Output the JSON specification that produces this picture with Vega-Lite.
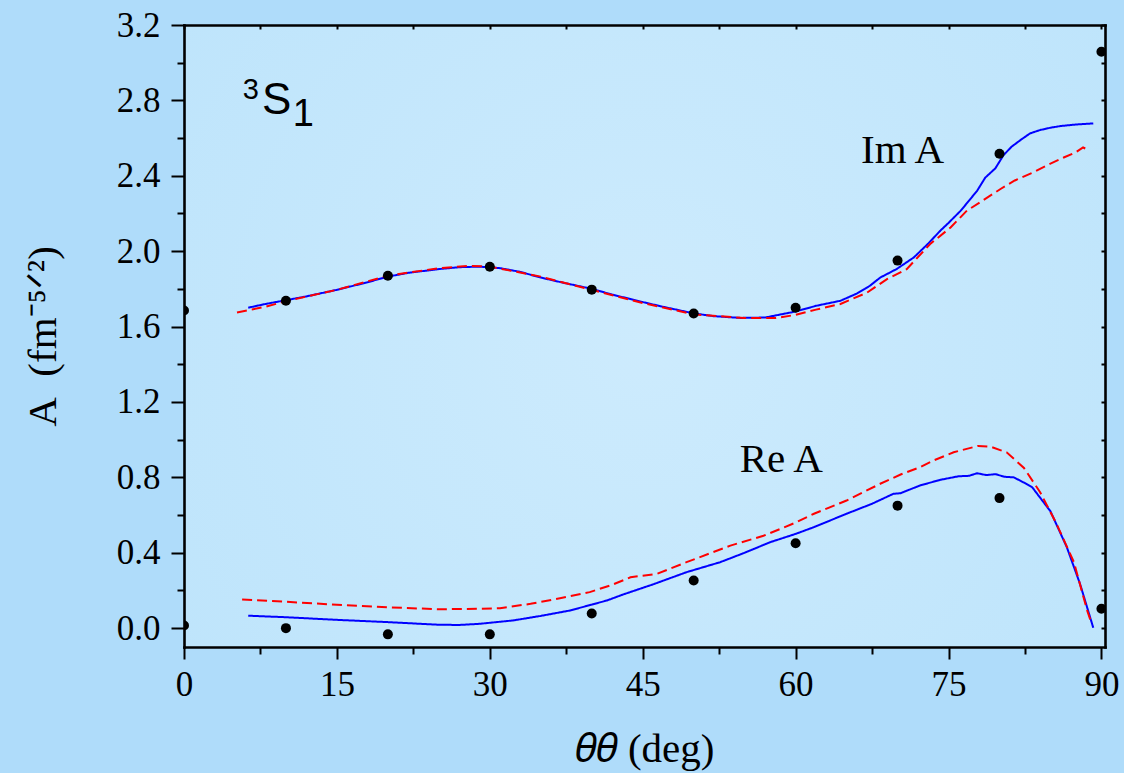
{
  "$schema": "https://vega.github.io/schema/vega-lite/v6.json",
  "width": 921,
  "height": 622,
  "autosize": {"type": "none"},
  "padding": {"left": 184, "top": 25, "right": 19, "bottom": 126},
  "background": "#afdcfa",
  "config": {
    "view": {
      "stroke": null,
      "fill": {
        "gradient": "radial",
        "x1": 0.5, "y1": 0.5, "x2": 0.5, "y2": 0.5, "r1": 0, "r2": 0.75,
        "stops": [{"offset": 0, "color": "#cdebfd"}, {"offset": 1, "color": "#bbe3fb"}]
      }
    },
    "axis": {
      "grid": false,
      "domainColor": "black",
      "domainWidth": 2.6,
      "domainCap": "square",
      "tickColor": "black",
      "tickWidth": 2,
      "labelFont": "Liberation Serif",
      "labelFontSize": 35,
      "labelColor": "black",
      "labelFlush": false,
      "labelOverlap": false,
      "titleFont": "Liberation Serif",
      "titleFontSize": 40,
      "titleFontWeight": "normal",
      "titleColor": "black",
      "zindex": 1
    }
  },
  "datasets": {
    "points": [
      {"theta": 0, "A": 1.685, "part": "Im"},
      {"theta": 10, "A": 1.737, "part": "Im"},
      {"theta": 20, "A": 1.87, "part": "Im"},
      {"theta": 30, "A": 1.917, "part": "Im"},
      {"theta": 40, "A": 1.796, "part": "Im"},
      {"theta": 50, "A": 1.669, "part": "Im"},
      {"theta": 60, "A": 1.70, "part": "Im"},
      {"theta": 70, "A": 1.95, "part": "Im"},
      {"theta": 80, "A": 2.517, "part": "Im"},
      {"theta": 90, "A": 3.058, "part": "Im"},
      {"theta": 0, "A": 0.014, "part": "Re"},
      {"theta": 10, "A": 0.0, "part": "Re"},
      {"theta": 20, "A": -0.033, "part": "Re"},
      {"theta": 30, "A": -0.033, "part": "Re"},
      {"theta": 40, "A": 0.078, "part": "Re"},
      {"theta": 50, "A": 0.253, "part": "Re"},
      {"theta": 60, "A": 0.45, "part": "Re"},
      {"theta": 70, "A": 0.65, "part": "Re"},
      {"theta": 80, "A": 0.69, "part": "Re"},
      {"theta": 90, "A": 0.103, "part": "Re"}
    ],
    "curves": [
      {"theta": 6.3, "A": 1.70, "part": "Im", "calc": "solid"},
      {"theta": 8, "A": 1.72, "part": "Im", "calc": "solid"},
      {"theta": 10, "A": 1.74, "part": "Im", "calc": "solid"},
      {"theta": 12, "A": 1.76, "part": "Im", "calc": "solid"},
      {"theta": 15, "A": 1.795, "part": "Im", "calc": "solid"},
      {"theta": 18, "A": 1.835, "part": "Im", "calc": "solid"},
      {"theta": 20, "A": 1.865, "part": "Im", "calc": "solid"},
      {"theta": 22, "A": 1.885, "part": "Im", "calc": "solid"},
      {"theta": 25, "A": 1.905, "part": "Im", "calc": "solid"},
      {"theta": 27, "A": 1.915, "part": "Im", "calc": "solid"},
      {"theta": 29, "A": 1.918, "part": "Im", "calc": "solid"},
      {"theta": 31, "A": 1.91, "part": "Im", "calc": "solid"},
      {"theta": 33, "A": 1.89, "part": "Im", "calc": "solid"},
      {"theta": 35, "A": 1.86, "part": "Im", "calc": "solid"},
      {"theta": 37, "A": 1.835, "part": "Im", "calc": "solid"},
      {"theta": 40, "A": 1.80, "part": "Im", "calc": "solid"},
      {"theta": 42, "A": 1.77, "part": "Im", "calc": "solid"},
      {"theta": 45, "A": 1.73, "part": "Im", "calc": "solid"},
      {"theta": 47, "A": 1.705, "part": "Im", "calc": "solid"},
      {"theta": 50, "A": 1.67, "part": "Im", "calc": "solid"},
      {"theta": 52, "A": 1.655, "part": "Im", "calc": "solid"},
      {"theta": 54.6, "A": 1.646, "part": "Im", "calc": "solid"},
      {"theta": 57, "A": 1.648, "part": "Im", "calc": "solid"},
      {"theta": 60, "A": 1.68, "part": "Im", "calc": "solid"},
      {"theta": 62, "A": 1.71, "part": "Im", "calc": "solid"},
      {"theta": 64.4, "A": 1.737, "part": "Im", "calc": "solid"},
      {"theta": 66, "A": 1.775, "part": "Im", "calc": "solid"},
      {"theta": 67.3, "A": 1.817, "part": "Im", "calc": "solid"},
      {"theta": 68.3, "A": 1.86, "part": "Im", "calc": "solid"},
      {"theta": 69.9, "A": 1.905, "part": "Im", "calc": "solid"},
      {"theta": 71.6, "A": 1.967, "part": "Im", "calc": "solid"},
      {"theta": 73, "A": 2.04, "part": "Im", "calc": "solid"},
      {"theta": 74.2, "A": 2.109, "part": "Im", "calc": "solid"},
      {"theta": 75, "A": 2.15, "part": "Im", "calc": "solid"},
      {"theta": 76.2, "A": 2.215, "part": "Im", "calc": "solid"},
      {"theta": 77.8, "A": 2.32, "part": "Im", "calc": "solid"},
      {"theta": 78.6, "A": 2.39, "part": "Im", "calc": "solid"},
      {"theta": 79.6, "A": 2.44, "part": "Im", "calc": "solid"},
      {"theta": 80.4, "A": 2.51, "part": "Im", "calc": "solid"},
      {"theta": 81.2, "A": 2.555, "part": "Im", "calc": "solid"},
      {"theta": 82.2, "A": 2.595, "part": "Im", "calc": "solid"},
      {"theta": 83, "A": 2.625, "part": "Im", "calc": "solid"},
      {"theta": 84, "A": 2.643, "part": "Im", "calc": "solid"},
      {"theta": 85, "A": 2.655, "part": "Im", "calc": "solid"},
      {"theta": 86, "A": 2.664, "part": "Im", "calc": "solid"},
      {"theta": 87.5, "A": 2.672, "part": "Im", "calc": "solid"},
      {"theta": 89.2, "A": 2.678, "part": "Im", "calc": "solid"},

      {"theta": 5.2, "A": 1.675, "part": "Im", "calc": "dashed"},
      {"theta": 8, "A": 1.705, "part": "Im", "calc": "dashed"},
      {"theta": 10, "A": 1.735, "part": "Im", "calc": "dashed"},
      {"theta": 15, "A": 1.795, "part": "Im", "calc": "dashed"},
      {"theta": 20, "A": 1.87, "part": "Im", "calc": "dashed"},
      {"theta": 25, "A": 1.91, "part": "Im", "calc": "dashed"},
      {"theta": 28, "A": 1.922, "part": "Im", "calc": "dashed"},
      {"theta": 30, "A": 1.918, "part": "Im", "calc": "dashed"},
      {"theta": 35, "A": 1.865, "part": "Im", "calc": "dashed"},
      {"theta": 40, "A": 1.795, "part": "Im", "calc": "dashed"},
      {"theta": 45, "A": 1.725, "part": "Im", "calc": "dashed"},
      {"theta": 50, "A": 1.665, "part": "Im", "calc": "dashed"},
      {"theta": 55, "A": 1.645, "part": "Im", "calc": "dashed"},
      {"theta": 58, "A": 1.645, "part": "Im", "calc": "dashed"},
      {"theta": 60, "A": 1.662, "part": "Im", "calc": "dashed"},
      {"theta": 62, "A": 1.69, "part": "Im", "calc": "dashed"},
      {"theta": 64.4, "A": 1.72, "part": "Im", "calc": "dashed"},
      {"theta": 67, "A": 1.78, "part": "Im", "calc": "dashed"},
      {"theta": 69, "A": 1.853, "part": "Im", "calc": "dashed"},
      {"theta": 70.9, "A": 1.905, "part": "Im", "calc": "dashed"},
      {"theta": 73.2, "A": 2.038, "part": "Im", "calc": "dashed"},
      {"theta": 75.2, "A": 2.126, "part": "Im", "calc": "dashed"},
      {"theta": 76.8, "A": 2.215, "part": "Im", "calc": "dashed"},
      {"theta": 78.4, "A": 2.27, "part": "Im", "calc": "dashed"},
      {"theta": 80.1, "A": 2.33, "part": "Im", "calc": "dashed"},
      {"theta": 81.5, "A": 2.375, "part": "Im", "calc": "dashed"},
      {"theta": 83.3, "A": 2.418, "part": "Im", "calc": "dashed"},
      {"theta": 85, "A": 2.465, "part": "Im", "calc": "dashed"},
      {"theta": 86.3, "A": 2.497, "part": "Im", "calc": "dashed"},
      {"theta": 87.5, "A": 2.525, "part": "Im", "calc": "dashed"},
      {"theta": 88.2, "A": 2.55, "part": "Im", "calc": "dashed"},
      {"theta": 88.6, "A": 2.54, "part": "Im", "calc": "dashed"},

      {"theta": 6.3, "A": 0.066, "part": "Re", "calc": "solid"},
      {"theta": 10, "A": 0.058, "part": "Re", "calc": "solid"},
      {"theta": 15, "A": 0.044, "part": "Re", "calc": "solid"},
      {"theta": 20, "A": 0.032, "part": "Re", "calc": "solid"},
      {"theta": 25, "A": 0.018, "part": "Re", "calc": "solid"},
      {"theta": 27, "A": 0.017, "part": "Re", "calc": "solid"},
      {"theta": 29, "A": 0.023, "part": "Re", "calc": "solid"},
      {"theta": 32.3, "A": 0.041, "part": "Re", "calc": "solid"},
      {"theta": 35, "A": 0.065, "part": "Re", "calc": "solid"},
      {"theta": 37.9, "A": 0.094, "part": "Re", "calc": "solid"},
      {"theta": 40, "A": 0.125, "part": "Re", "calc": "solid"},
      {"theta": 41.5, "A": 0.147, "part": "Re", "calc": "solid"},
      {"theta": 43.1, "A": 0.179, "part": "Re", "calc": "solid"},
      {"theta": 46, "A": 0.232, "part": "Re", "calc": "solid"},
      {"theta": 49.3, "A": 0.297, "part": "Re", "calc": "solid"},
      {"theta": 52.6, "A": 0.35, "part": "Re", "calc": "solid"},
      {"theta": 55, "A": 0.40, "part": "Re", "calc": "solid"},
      {"theta": 57.5, "A": 0.456, "part": "Re", "calc": "solid"},
      {"theta": 60, "A": 0.50, "part": "Re", "calc": "solid"},
      {"theta": 61.8, "A": 0.536, "part": "Re", "calc": "solid"},
      {"theta": 65, "A": 0.607, "part": "Re", "calc": "solid"},
      {"theta": 67.5, "A": 0.66, "part": "Re", "calc": "solid"},
      {"theta": 69.6, "A": 0.713, "part": "Re", "calc": "solid"},
      {"theta": 70.3, "A": 0.716, "part": "Re", "calc": "solid"},
      {"theta": 72.2, "A": 0.757, "part": "Re", "calc": "solid"},
      {"theta": 74.2, "A": 0.787, "part": "Re", "calc": "solid"},
      {"theta": 76, "A": 0.806, "part": "Re", "calc": "solid"},
      {"theta": 77, "A": 0.808, "part": "Re", "calc": "solid"},
      {"theta": 77.8, "A": 0.822, "part": "Re", "calc": "solid"},
      {"theta": 78.7, "A": 0.812, "part": "Re", "calc": "solid"},
      {"theta": 79.6, "A": 0.817, "part": "Re", "calc": "solid"},
      {"theta": 80.5, "A": 0.803, "part": "Re", "calc": "solid"},
      {"theta": 81.4, "A": 0.80, "part": "Re", "calc": "solid"},
      {"theta": 82.3, "A": 0.775, "part": "Re", "calc": "solid"},
      {"theta": 83.2, "A": 0.748, "part": "Re", "calc": "solid"},
      {"theta": 85, "A": 0.62, "part": "Re", "calc": "solid"},
      {"theta": 86.6, "A": 0.43, "part": "Re", "calc": "solid"},
      {"theta": 87.9, "A": 0.235, "part": "Re", "calc": "solid"},
      {"theta": 89.2, "A": 0.002, "part": "Re", "calc": "solid"},

      {"theta": 5.7, "A": 0.152, "part": "Re", "calc": "dashed"},
      {"theta": 10, "A": 0.14, "part": "Re", "calc": "dashed"},
      {"theta": 15, "A": 0.124, "part": "Re", "calc": "dashed"},
      {"theta": 20, "A": 0.111, "part": "Re", "calc": "dashed"},
      {"theta": 25, "A": 0.10, "part": "Re", "calc": "dashed"},
      {"theta": 29, "A": 0.103, "part": "Re", "calc": "dashed"},
      {"theta": 31, "A": 0.106, "part": "Re", "calc": "dashed"},
      {"theta": 34, "A": 0.129, "part": "Re", "calc": "dashed"},
      {"theta": 37, "A": 0.16, "part": "Re", "calc": "dashed"},
      {"theta": 39.8, "A": 0.191, "part": "Re", "calc": "dashed"},
      {"theta": 42, "A": 0.23, "part": "Re", "calc": "dashed"},
      {"theta": 43.8, "A": 0.27, "part": "Re", "calc": "dashed"},
      {"theta": 46.4, "A": 0.288, "part": "Re", "calc": "dashed"},
      {"theta": 49.3, "A": 0.35, "part": "Re", "calc": "dashed"},
      {"theta": 53.6, "A": 0.438, "part": "Re", "calc": "dashed"},
      {"theta": 56.85, "A": 0.49, "part": "Re", "calc": "dashed"},
      {"theta": 60, "A": 0.56, "part": "Re", "calc": "dashed"},
      {"theta": 61.8, "A": 0.607, "part": "Re", "calc": "dashed"},
      {"theta": 65, "A": 0.677, "part": "Re", "calc": "dashed"},
      {"theta": 68.3, "A": 0.766, "part": "Re", "calc": "dashed"},
      {"theta": 70.3, "A": 0.815, "part": "Re", "calc": "dashed"},
      {"theta": 72.2, "A": 0.854, "part": "Re", "calc": "dashed"},
      {"theta": 73.5, "A": 0.889, "part": "Re", "calc": "dashed"},
      {"theta": 75.5, "A": 0.933, "part": "Re", "calc": "dashed"},
      {"theta": 77.9, "A": 0.967, "part": "Re", "calc": "dashed"},
      {"theta": 79.1, "A": 0.963, "part": "Re", "calc": "dashed"},
      {"theta": 80.7, "A": 0.933, "part": "Re", "calc": "dashed"},
      {"theta": 82.4, "A": 0.85, "part": "Re", "calc": "dashed"},
      {"theta": 84, "A": 0.72, "part": "Re", "calc": "dashed"},
      {"theta": 85.6, "A": 0.553, "part": "Re", "calc": "dashed"},
      {"theta": 87.3, "A": 0.35, "part": "Re", "calc": "dashed"},
      {"theta": 88.6, "A": 0.094, "part": "Re", "calc": "dashed"},
      {"theta": 89, "A": 0.03, "part": "Re", "calc": "dashed"}
    ]
  },
  "layer": [
    {
      "data": {"name": "curves"},
      "mark": {"type": "line", "strokeWidth": 2, "clip": true},
      "encoding": {
        "x": {
          "field": "theta", "type": "quantitative",
          "scale": {"domain": [0, 90.35], "nice": false, "zero": false},
          "axis": {"orient": "bottom", "values": [7.5, 22.5, 37.5, 52.5, 67.5, 82.5], "tickSize": 7, "labels": false, "domain": false, "title": null}
        },
        "y": {
          "field": "A", "type": "quantitative",
          "scale": {"domain": [-0.1, 3.2], "nice": false, "zero": false},
          "axis": {"orient": "left", "values": [0.2, 0.6, 1.0, 1.4, 1.8, 2.2, 2.6, 3.0], "tickSize": 7, "labels": false, "domain": false, "title": null}
        },
        "detail": {"field": "part"},
        "color": {"field": "calc", "type": "nominal", "scale": {"domain": ["solid", "dashed"], "range": ["#0000ff", "#ff0000"]}, "legend": null},
        "strokeDash": {"field": "calc", "type": "nominal", "scale": {"domain": ["solid", "dashed"], "range": [[1, 0], [10, 5]]}, "legend": null}
      }
    },
    {
      "data": {"name": "points"},
      "mark": {"type": "point", "shape": "circle", "filled": true, "size": 100, "color": "black", "opacity": 1, "clip": true},
      "encoding": {
        "x": {
          "field": "theta", "type": "quantitative",
          "axis": {"orient": "bottom", "values": [0, 15, 30, 45, 60, 75, 90], "tickSize": 12, "labelPadding": 8, "title": "𝜃𝜃 (deg)", "titleFontSize": 41, "titlePadding": 27}
        },
        "y": {
          "field": "A", "type": "quantitative",
          "axis": {"orient": "left", "values": [0, 0.4, 0.8, 1.2, 1.6, 2.0, 2.4, 2.8, 3.2], "format": ".1f", "tickSize": 13, "labelPadding": 11, "title": "A\u00a0\u00a0(fm⁻⁵ᐟ²)", "titleFontSize": 41, "titlePadding": 52}
        }
      }
    },
    {
      "data": {"values": [
        {"theta": 70.5, "A": 2.468, "label": "Im A"},
        {"theta": 58.6, "A": 0.827, "label": "Re A"}
      ]},
      "mark": {"type": "text", "font": "Liberation Serif", "fontSize": 41, "align": "center", "baseline": "alphabetic", "color": "black"},
      "encoding": {
        "x": {
          "field": "theta", "type": "quantitative",
          "axis": {"orient": "top", "values": [0, 7.5, 15, 22.5, 30, 37.5, 45, 52.5, 60, 67.5, 75, 82.5, 90], "tickSize": -4, "labels": false, "title": null}
        },
        "y": {
          "field": "A", "type": "quantitative",
          "axis": {"orient": "right", "values": [0, 0.2, 0.4, 0.6, 0.8, 1.0, 1.2, 1.4, 1.6, 1.8, 2.0, 2.2, 2.4, 2.6, 2.8, 3.0, 3.2], "tickSize": -4, "labels": false, "title": null}
        },
        "text": {"field": "label"}
      }
    },
    {
      "data": {"values": [{"theta": 9.1, "A": 2.727, "label": "S"}]},
      "mark": {"type": "text", "font": "Liberation Sans", "fontSize": 44, "align": "center", "baseline": "alphabetic", "color": "black"},
      "encoding": {
        "x": {"field": "theta", "type": "quantitative", "axis": null},
        "y": {"field": "A", "type": "quantitative", "axis": null},
        "text": {"field": "label"}
      }
    },
    {
      "data": {"values": [{"theta": 6.55, "A": 2.807, "label": "3"}]},
      "mark": {"type": "text", "font": "Liberation Sans", "fontSize": 29, "align": "center", "baseline": "alphabetic", "color": "black"},
      "encoding": {
        "x": {"field": "theta", "type": "quantitative", "axis": null},
        "y": {"field": "A", "type": "quantitative", "axis": null},
        "text": {"field": "label"}
      }
    },
    {
      "data": {"values": [{"theta": 11.7, "A": 2.665, "label": "1"}]},
      "mark": {"type": "text", "font": "Liberation Sans", "fontSize": 38, "align": "center", "baseline": "alphabetic", "color": "black"},
      "encoding": {
        "x": {"field": "theta", "type": "quantitative", "axis": null},
        "y": {"field": "A", "type": "quantitative", "axis": null},
        "text": {"field": "label"}
      }
    }
  ],
  "resolve": {"axis": {"x": "independent", "y": "independent"}}
}
